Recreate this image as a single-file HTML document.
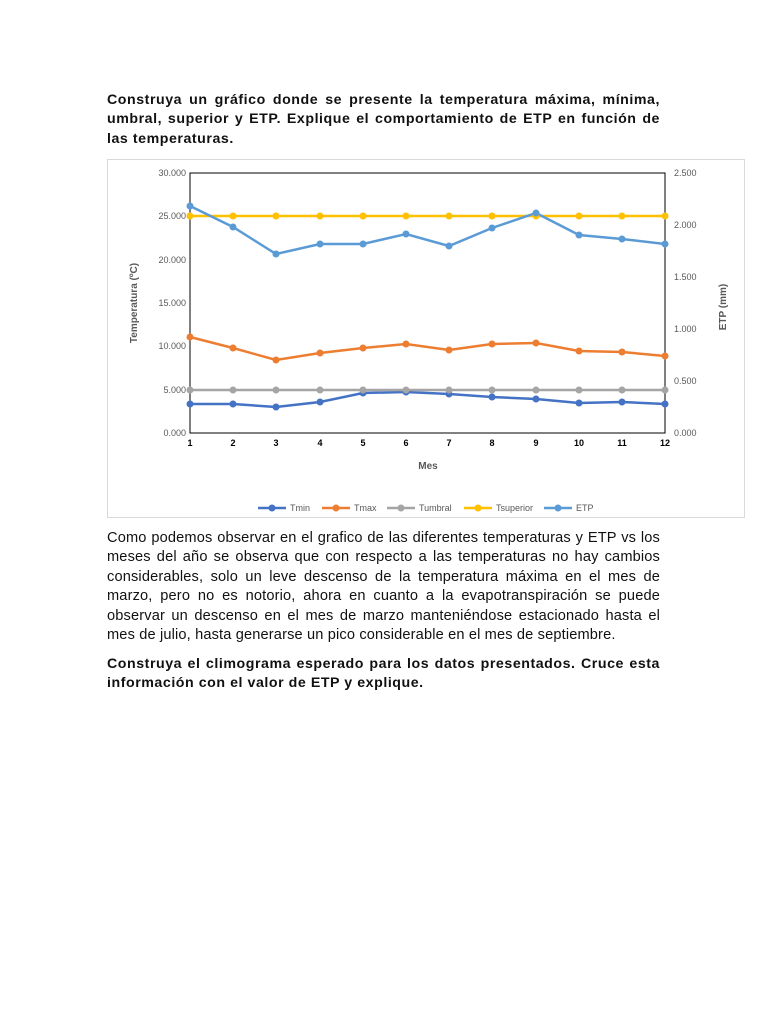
<!DOCTYPE html>
<html><head><meta charset="utf-8"><style>
body{margin:0;background:#fff;width:768px;height:1024px;position:relative;font-family:"Liberation Sans",Arial,sans-serif;}
.p{position:absolute;left:107px;width:553px;font-size:14.6px;letter-spacing:0.15px;line-height:19.4px;text-align:justify;color:#111;}
.b{font-weight:bold;font-size:14.2px;letter-spacing:0.55px;}
</style></head><body>
<div class="p b" style="top:91px">Construya un gráfico donde se presente la temperatura máxima, mínima, umbral, superior y ETP. Explique el comportamiento de ETP en función de las temperaturas.</div>
<svg style="position:absolute;left:0;top:0" width="768" height="1024" font-family="Liberation Sans,Arial,sans-serif">
<rect x="107.5" y="159.5" width="637" height="358" fill="#fff" stroke="#d9d9d9"/>
<rect x="190" y="173" width="475" height="260" fill="none" stroke="#000" stroke-width="1"/>
<g font-size="9" fill="#595959" text-anchor="end">
<text x="186" y="176">30.000</text><text x="186" y="219">25.000</text><text x="186" y="263">20.000</text><text x="186" y="306">15.000</text><text x="186" y="349">10.000</text><text x="186" y="393">5.000</text><text x="186" y="436">0.000</text>
</g>
<g font-size="9" fill="#595959">
<text x="674" y="176">2.500</text><text x="674" y="228">2.000</text><text x="674" y="280">1.500</text><text x="674" y="332">1.000</text><text x="674" y="384">0.500</text><text x="674" y="436">0.000</text>
</g>
<g font-size="9" fill="#000" text-anchor="middle" font-weight="bold">
<text x="190" y="446">1</text><text x="233" y="446">2</text><text x="276" y="446">3</text><text x="320" y="446">4</text><text x="363" y="446">5</text><text x="406" y="446">6</text><text x="449" y="446">7</text><text x="492" y="446">8</text><text x="536" y="446">9</text><text x="579" y="446">10</text><text x="622" y="446">11</text><text x="665" y="446">12</text>
</g>
<text x="428" y="469" font-size="10" font-weight="bold" fill="#595959" text-anchor="middle">Mes</text>
<text transform="translate(137,303) rotate(-90)" font-size="10" font-weight="bold" fill="#595959" text-anchor="middle">Temperatura (ºC)</text>
<text transform="translate(726,307) rotate(-90)" font-size="10" font-weight="bold" fill="#595959" text-anchor="middle">ETP (mm)</text>
<g fill="none" stroke-width="2.5">
<polyline stroke="#4472c4" points="190,404 233,404 276,407 320,402 363,393 406,392 449,394 492,397 536,399 579,403 622,402 665,404"/>
<polyline stroke="#ed7d31" points="190,337 233,348 276,360 320,353 363,348 406,344 449,350 492,344 536,343 579,351 622,352 665,356"/>
<polyline stroke="#a5a5a5" points="190,390 665,390"/>
<polyline stroke="#ffc000" points="190,216 665,216"/>
<polyline stroke="#5b9bd5" points="190,206 233,227 276,254 320,244 363,244 406,234 449,246 492,228 536,213 579,235 622,239 665,244"/>
</g>
<g fill="#4472c4"><circle cx="190" cy="404" r="3.5"/><circle cx="233" cy="404" r="3.5"/><circle cx="276" cy="407" r="3.5"/><circle cx="320" cy="402" r="3.5"/><circle cx="363" cy="393" r="3.5"/><circle cx="406" cy="392" r="3.5"/><circle cx="449" cy="394" r="3.5"/><circle cx="492" cy="397" r="3.5"/><circle cx="536" cy="399" r="3.5"/><circle cx="579" cy="403" r="3.5"/><circle cx="622" cy="402" r="3.5"/><circle cx="665" cy="404" r="3.5"/></g>
<g fill="#ed7d31"><circle cx="190" cy="337" r="3.5"/><circle cx="233" cy="348" r="3.5"/><circle cx="276" cy="360" r="3.5"/><circle cx="320" cy="353" r="3.5"/><circle cx="363" cy="348" r="3.5"/><circle cx="406" cy="344" r="3.5"/><circle cx="449" cy="350" r="3.5"/><circle cx="492" cy="344" r="3.5"/><circle cx="536" cy="343" r="3.5"/><circle cx="579" cy="351" r="3.5"/><circle cx="622" cy="352" r="3.5"/><circle cx="665" cy="356" r="3.5"/></g>
<g fill="#a5a5a5"><circle cx="190" cy="390" r="3.5"/><circle cx="233" cy="390" r="3.5"/><circle cx="276" cy="390" r="3.5"/><circle cx="320" cy="390" r="3.5"/><circle cx="363" cy="390" r="3.5"/><circle cx="406" cy="390" r="3.5"/><circle cx="449" cy="390" r="3.5"/><circle cx="492" cy="390" r="3.5"/><circle cx="536" cy="390" r="3.5"/><circle cx="579" cy="390" r="3.5"/><circle cx="622" cy="390" r="3.5"/><circle cx="665" cy="390" r="3.5"/></g>
<g fill="#ffc000"><circle cx="190" cy="216" r="3.5"/><circle cx="233" cy="216" r="3.5"/><circle cx="276" cy="216" r="3.5"/><circle cx="320" cy="216" r="3.5"/><circle cx="363" cy="216" r="3.5"/><circle cx="406" cy="216" r="3.5"/><circle cx="449" cy="216" r="3.5"/><circle cx="492" cy="216" r="3.5"/><circle cx="536" cy="216" r="3.5"/><circle cx="579" cy="216" r="3.5"/><circle cx="622" cy="216" r="3.5"/><circle cx="665" cy="216" r="3.5"/></g>
<g fill="#5b9bd5"><circle cx="190" cy="206" r="3.5"/><circle cx="233" cy="227" r="3.5"/><circle cx="276" cy="254" r="3.5"/><circle cx="320" cy="244" r="3.5"/><circle cx="363" cy="244" r="3.5"/><circle cx="406" cy="234" r="3.5"/><circle cx="449" cy="246" r="3.5"/><circle cx="492" cy="228" r="3.5"/><circle cx="536" cy="213" r="3.5"/><circle cx="579" cy="235" r="3.5"/><circle cx="622" cy="239" r="3.5"/><circle cx="665" cy="244" r="3.5"/></g>
<g font-size="9" fill="#595959" stroke-width="2.5">
<line x1="258" y1="508" x2="286" y2="508" stroke="#4472c4"/><circle cx="272" cy="508" r="3.5" fill="#4472c4"/><text x="290" y="511">Tmin</text>
<line x1="322" y1="508" x2="350" y2="508" stroke="#ed7d31"/><circle cx="336" cy="508" r="3.5" fill="#ed7d31"/><text x="354" y="511">Tmax</text>
<line x1="387" y1="508" x2="415" y2="508" stroke="#a5a5a5"/><circle cx="401" cy="508" r="3.5" fill="#a5a5a5"/><text x="419" y="511">Tumbral</text>
<line x1="464" y1="508" x2="492" y2="508" stroke="#ffc000"/><circle cx="478" cy="508" r="3.5" fill="#ffc000"/><text x="496" y="511">Tsuperior</text>
<line x1="544" y1="508" x2="572" y2="508" stroke="#5b9bd5"/><circle cx="558" cy="508" r="3.5" fill="#5b9bd5"/><text x="576" y="511">ETP</text>
</g>
</svg>
<div class="p" style="top:529px">Como podemos observar en el grafico de las diferentes temperaturas y ETP vs los meses del año se observa que con respecto a las temperaturas no hay cambios considerables, solo un leve descenso de la temperatura máxima en el mes de marzo, pero no es notorio, ahora en cuanto a la evapotranspiración se puede observar un descenso en el mes de marzo manteniéndose estacionado hasta el mes de julio, hasta generarse un pico considerable en el mes de septiembre.</div>
<div class="p b" style="top:655px">Construya el climograma esperado para los datos presentados. Cruce esta información con el valor de ETP y explique.</div>
</body></html>
